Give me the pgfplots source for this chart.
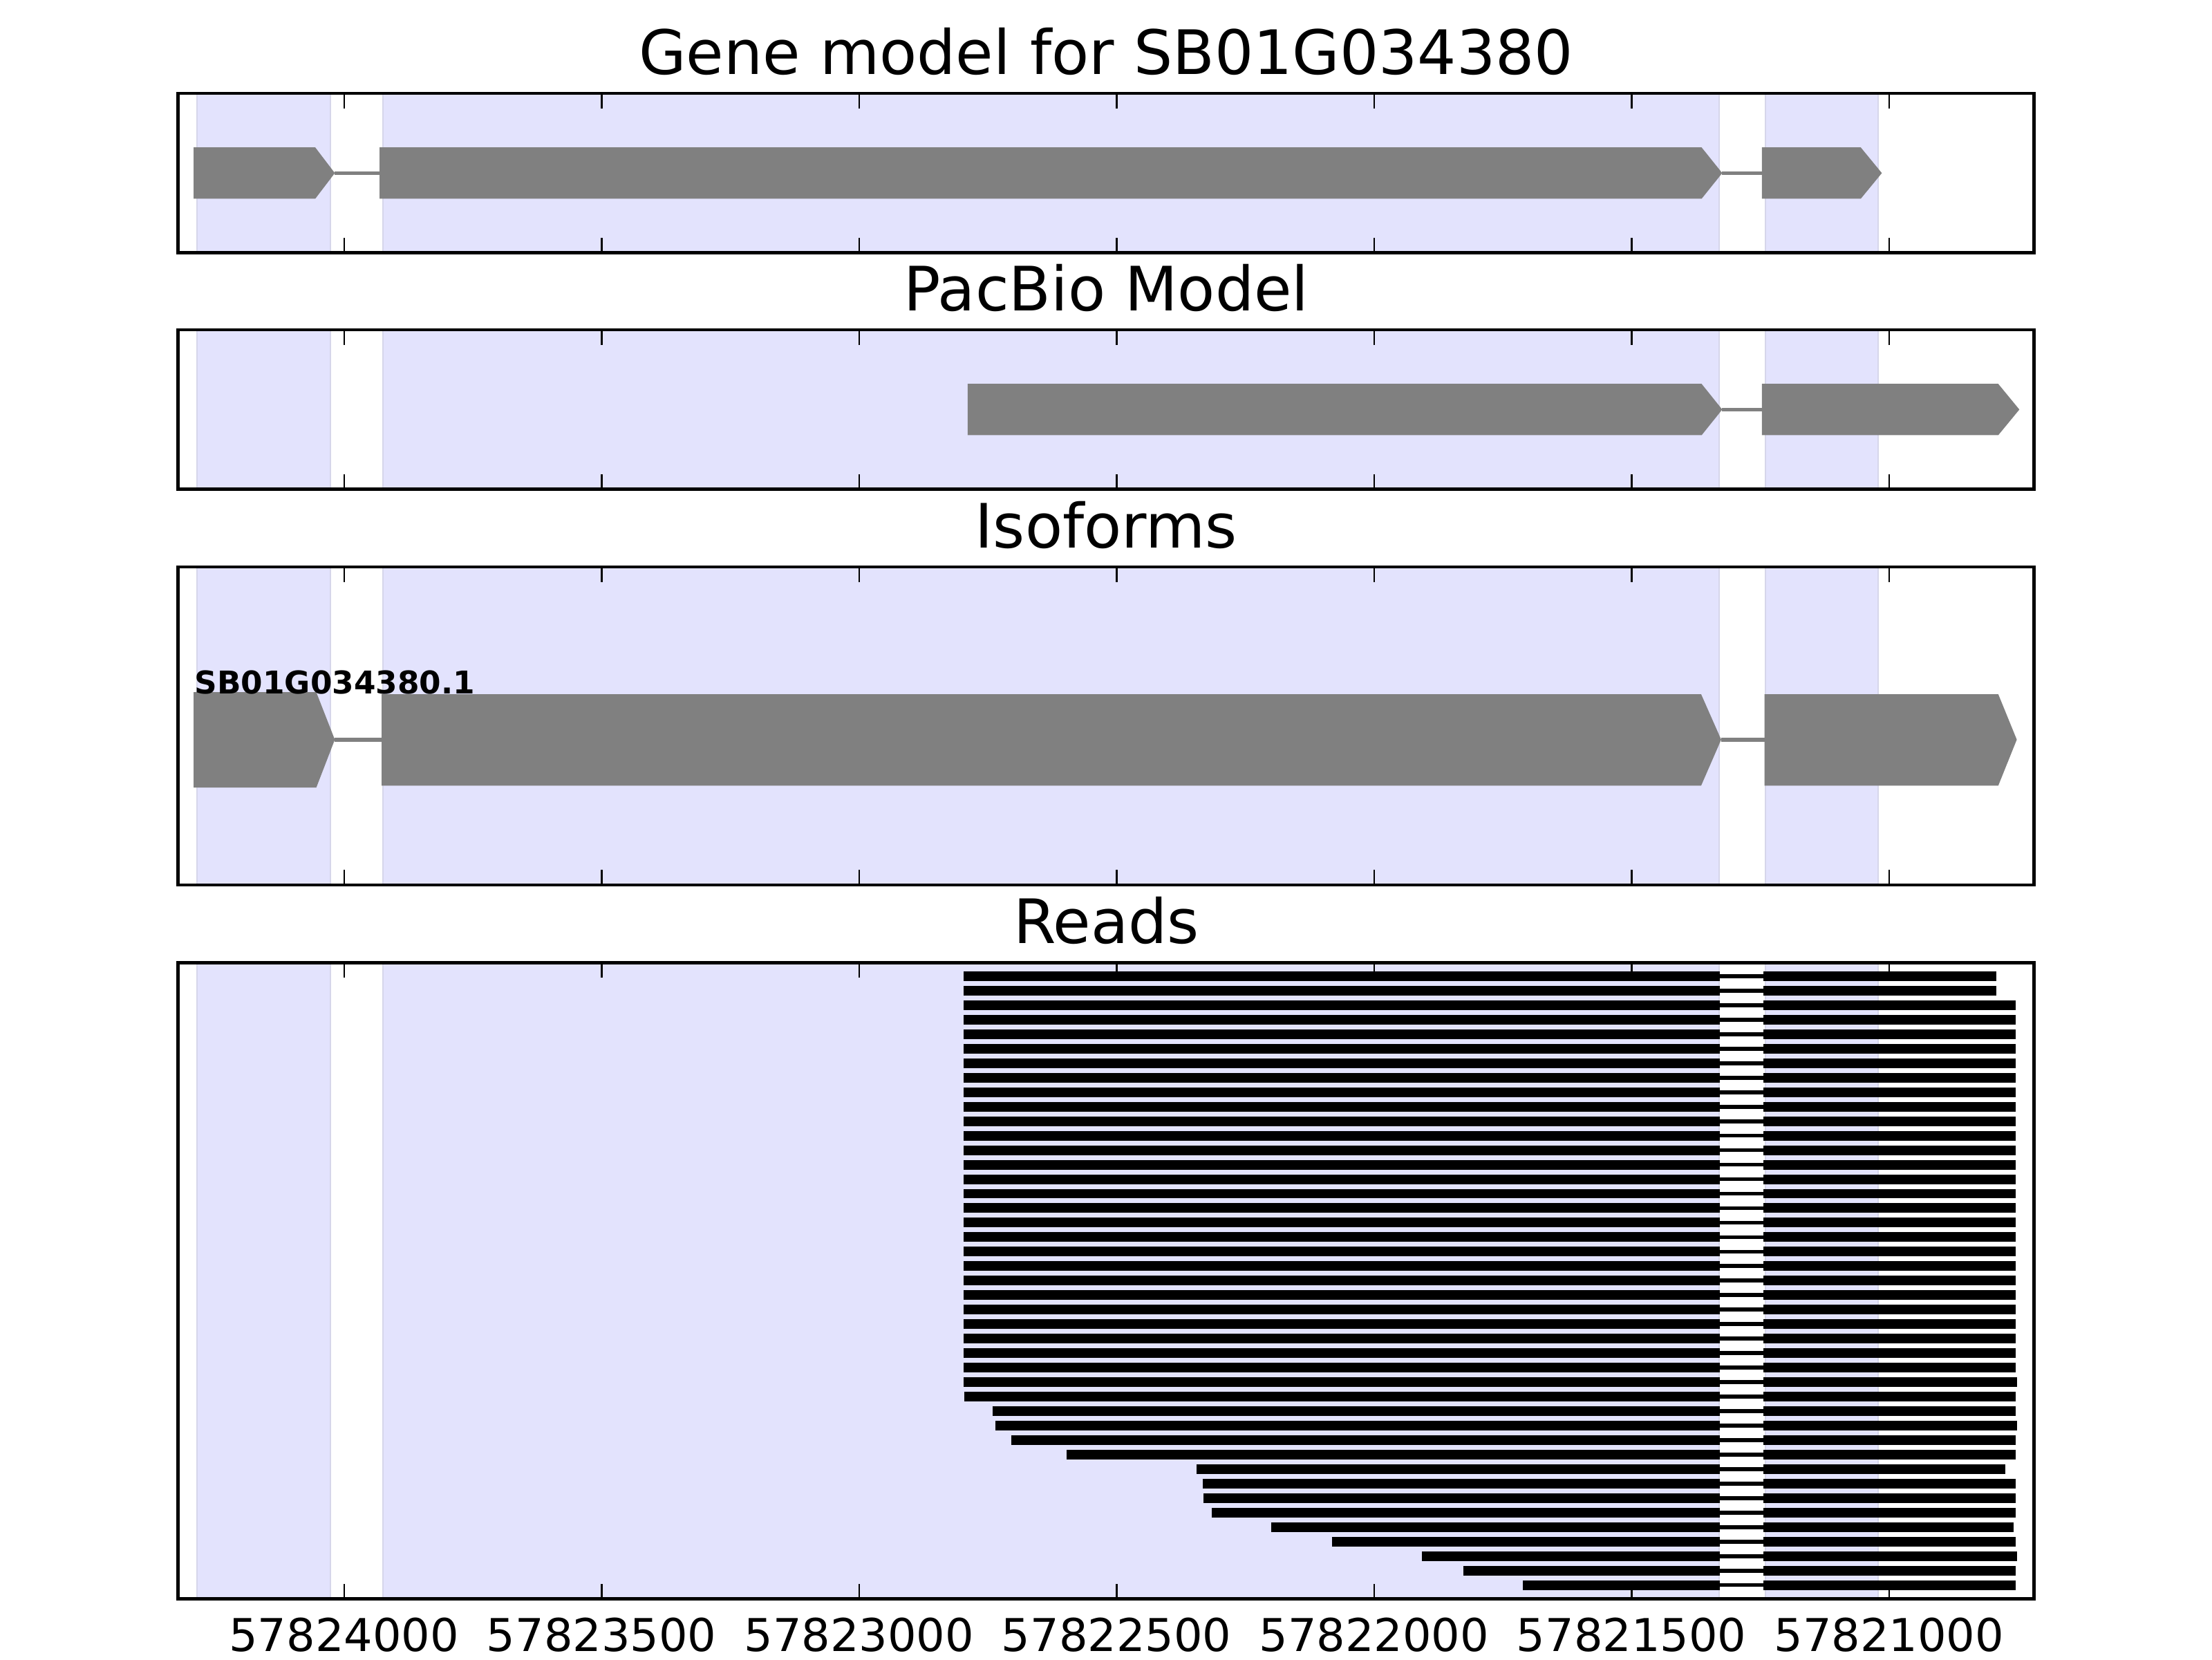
\documentclass[border=0pt]{standalone}
\usepackage{pgfplots}
\pgfplotsset{compat=1.18}
\usepackage{pgfplotstable}
\usepackage{fontspec}
\setmainfont{DejaVu Sans}

\definecolor{spanfill}{RGB}{227,227,253}
\definecolor{spanedge}{RGB}{214,214,234}
\definecolor{genegray}{RGB}{128,128,128}

% genomic positions are kept as plain numbers; \X shifts them by 57820000
% with exact integer arithmetic so that no precision is lost in plotting
\newcommand\X[1]{\the\numexpr#1-57820000\relax}
\newcommand\AP[2]{\edef\APtmp{\noexpand\addplot[#1] coordinates {#2}}\APtmp}

% read start / end coordinates (row 0 at top)
\pgfplotstableread{
start end
57822797 57820792
57822797 57820792
57822797 57820754
57822797 57820754
57822797 57820754
57822797 57820754
57822797 57820754
57822797 57820754
57822797 57820754
57822797 57820754
57822797 57820754
57822797 57820754
57822797 57820754
57822797 57820754
57822797 57820754
57822797 57820754
57822797 57820754
57822797 57820754
57822797 57820754
57822797 57820754
57822797 57820754
57822797 57820754
57822797 57820754
57822797 57820754
57822797 57820754
57822797 57820754
57822797 57820754
57822797 57820754
57822797 57820752
57822796 57820754
57822741 57820754
57822735 57820752
57822704 57820754
57822597 57820754
57822345 57820774
57822333 57820754
57822331 57820754
57822315 57820754
57822200 57820758
57822082 57820754
57821907 57820752
57821827 57820754
57821711 57820754
}\reads

\tikzset{labelnode/.style={anchor=base west, inner sep=0pt,
  font=\bfseries\fontsize{6.45}{7.7}\selectfont}}

\pgfplotsset{
  every axis title/.style={at={(0.5,1)}, anchor=base, yshift=0.137cm,
      inner sep=0pt, font=\fontsize{12.6}{15}\selectfont},
  gm/.style={
    scale only axis, width=13.425cm, anchor=south west,
    x dir=reverse, xmin=718, xmax=4322,   % = 57820718 ... 57824322
    xtick={1000,1500,2000,2500,3000,3500,4000},
    xticklabels={},
    ytick=\empty,
    tick align=inside, xtick pos=both,
    major tick length=0.11cm,
    every tick/.style={black, line width=0.35pt},
    axis line style={line width=0.7pt},
    axis on top,
  },
  spanst/.style={fill=spanfill, draw=spanedge, line width=0.3pt, mark=none},
  exonst/.style={fill=genegray, draw=none, mark=none},
  intronst/.style={genegray, line width=0.8pt, mark=none},
  rexon/.style={black, line width=1.99pt, mark=none},
  rintron/.style={black, line width=0.81pt, mark=none},
}

\begin{document}
\begin{tikzpicture}
\useasboundingbox (0,0) rectangle (16cm,12cm);

% ---------------- Gene model
\begin{axis}[gm, at={(1.2895cm,10.1715cm)}, height=1.1535cm, ymin=0, ymax=1,
  title={Gene model for SB01G034380}]
\AP{spanst}{(\X{57824286},-1)(\X{57824026},-1)(\X{57824026},2)(\X{57824286},2)} -- cycle;
\AP{spanst}{(\X{57823924},-1)(\X{57821330},-1)(\X{57821330},2)(\X{57823924},2)} -- cycle;
\AP{spanst}{(\X{57821240},-1)(\X{57821021},-1)(\X{57821021},2)(\X{57821240},2)} -- cycle;
\AP{intronst}{(\X{57824018},0.5)(\X{57823931},0.5)};
\AP{intronst}{(\X{57821324},0.5)(\X{57821247},0.5)};
\AP{exonst}{(\X{57824292},0.339)(\X{57824056},0.339)(\X{57824018},0.5)(\X{57824056},0.661)(\X{57824292},0.661)} -- cycle;
\AP{exonst}{(\X{57823931},0.339)(\X{57821364},0.339)(\X{57821324},0.5)(\X{57821364},0.661)(\X{57823931},0.661)} -- cycle;
\AP{exonst}{(\X{57821247},0.339)(\X{57821055},0.339)(\X{57821014},0.5)(\X{57821055},0.661)(\X{57821247},0.661)} -- cycle;
\end{axis}

% ---------------- PacBio model
\begin{axis}[gm, at={(1.2895cm,8.4615cm)}, height=1.1535cm, ymin=0, ymax=1,
  title={PacBio Model}]
\AP{spanst}{(\X{57824286},-1)(\X{57824026},-1)(\X{57824026},2)(\X{57824286},2)} -- cycle;
\AP{spanst}{(\X{57823924},-1)(\X{57821330},-1)(\X{57821330},2)(\X{57823924},2)} -- cycle;
\AP{spanst}{(\X{57821240},-1)(\X{57821021},-1)(\X{57821021},2)(\X{57821240},2)} -- cycle;
\AP{intronst}{(\X{57821324},0.5)(\X{57821247},0.5)};
\AP{exonst}{(\X{57822789},0.339)(\X{57821364},0.339)(\X{57821324},0.5)(\X{57821364},0.661)(\X{57822789},0.661)} -- cycle;
\AP{exonst}{(\X{57821247},0.339)(\X{57820788},0.339)(\X{57820747},0.5)(\X{57820788},0.661)(\X{57821247},0.661)} -- cycle;
\end{axis}

% ---------------- Isoforms
\begin{axis}[gm, at={(1.2895cm,5.6cm)}, height=2.3cm, ymin=0, ymax=1,
  title={Isoforms}]
\AP{spanst}{(\X{57824286},-1)(\X{57824026},-1)(\X{57824026},2)(\X{57824286},2)} -- cycle;
\AP{spanst}{(\X{57823924},-1)(\X{57821330},-1)(\X{57821330},2)(\X{57823924},2)} -- cycle;
\AP{spanst}{(\X{57821240},-1)(\X{57821021},-1)(\X{57821021},2)(\X{57821240},2)} -- cycle;
\AP{intronst}{(\X{57824018},0.457)(\X{57823927},0.457)};
\AP{intronst}{(\X{57821326},0.457)(\X{57821242},0.457)};
\AP{exonst}{(\X{57824292},0.306)(\X{57824054},0.306)(\X{57824018},0.457)(\X{57824054},0.606)(\X{57824292},0.606)} -- cycle;
\AP{exonst}{(\X{57823927},0.312)(\X{57821365},0.312)(\X{57821326},0.457)(\X{57821365},0.600)(\X{57823927},0.600)} -- cycle;
\AP{exonst}{(\X{57821242},0.312)(\X{57820788},0.312)(\X{57820752},0.457)(\X{57820788},0.600)(\X{57821242},0.600)} -- cycle;
\AP{draw=none, mark=none}{(\X{57824292},0.601)(\X{57824200},0.601)}
  node[labelnode, pos=0] {SB01G034380.1};
\end{axis}

% ---------------- Reads
\begin{axis}[gm, at={(1.2895cm,0.4375cm)}, height=4.6025cm,
  ymin=-0.95, ymax=42.95, y dir=reverse,
  title={Reads},
  xticklabels={57821000,57821500,57822000,57822500,57823000,57823500,57824000},
  x tick label style={font=\fontsize{9.3}{11}\selectfont, anchor=north,
    inner sep=0pt, yshift=-0.13cm}]
\AP{spanst}{(\X{57824286},-2)(\X{57824026},-2)(\X{57824026},45)(\X{57824286},45)} -- cycle;
\AP{spanst}{(\X{57823924},-2)(\X{57821330},-2)(\X{57821330},45)(\X{57823924},45)} -- cycle;
\AP{spanst}{(\X{57821240},-2)(\X{57821021},-2)(\X{57821021},45)(\X{57821240},45)} -- cycle;
\pgfplotsforeachungrouped \i in {0,...,42}{%
  \pgfplotstablegetelem{\i}{start}\of\reads \let\rdS\pgfplotsretval
  \pgfplotstablegetelem{\i}{end}\of\reads \let\rdE\pgfplotsretval
  \AP{rintron}{(\X{57821328},\i)(\X{57821244},\i)};
  \AP{rexon}{(\X{\rdS},\i)(\X{57821328},\i)};
  \AP{rexon}{(\X{57821244},\i)(\X{\rdE},\i)};
}
\end{axis}
\end{tikzpicture}
\end{document}
